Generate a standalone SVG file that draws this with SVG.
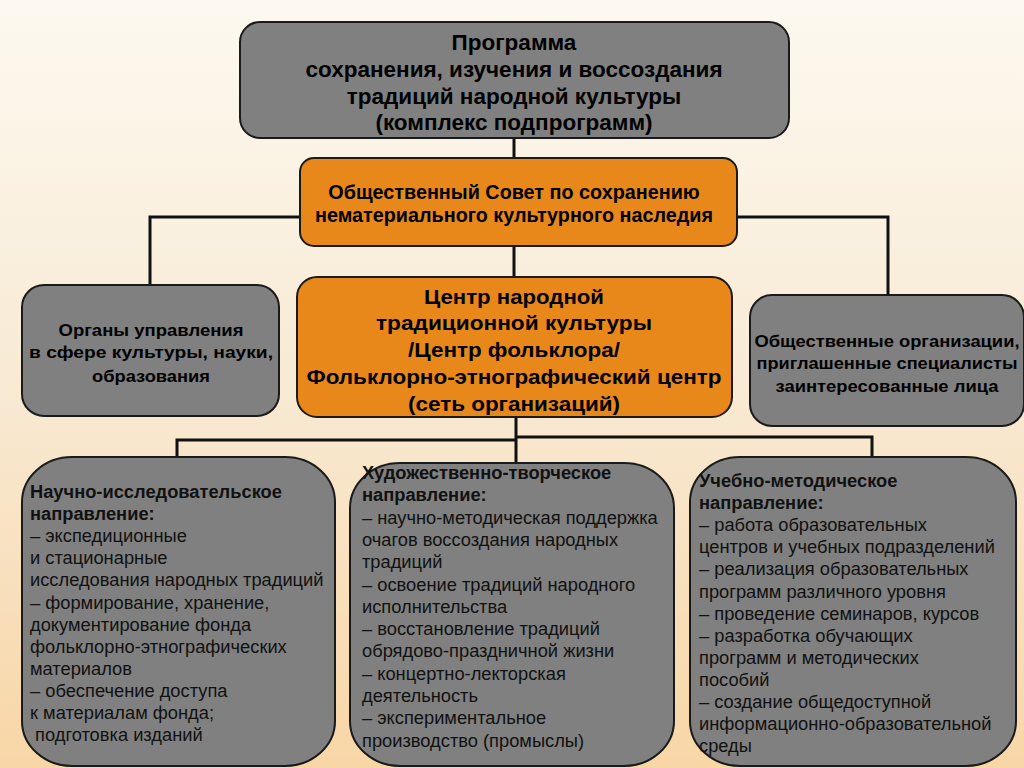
<svg xmlns="http://www.w3.org/2000/svg" width="1024" height="768" viewBox="0 0 1024 768">
<defs>
<linearGradient id="bg" x1="0" y1="0" x2="0" y2="1">
<stop offset="0" stop-color="#FDF9F0"/>
<stop offset="0.5" stop-color="#F8EAD4"/>
<stop offset="1" stop-color="#F8D6A6"/>
</linearGradient>
<style>
.gray{fill:#808080;stroke:#1a1a1a;stroke-width:2}
.org{fill:#E8881A;stroke:#1a1a1a;stroke-width:2}
.ln{fill:none;stroke:#111;stroke-width:3}
.t{font-family:"Liberation Sans",Arial,sans-serif;fill:#000}
.b{font-weight:bold}
.c{text-anchor:middle}
.h1{font-size:22.5px}
.h2{font-size:19.8px}
.cn{font-size:21px}
.sm{font-size:16px}
.bx{font-size:18.3px;fill:#111}
</style>
</defs>
<rect width="1024" height="768" fill="url(#bg)"/>
<g id="connectors">
<path class="ln" d="M514 138V158"/>
<path class="ln" d="M514 246V277"/>
<path class="ln" d="M300 217H150V285"/>
<path class="ln" d="M737 217H888V295"/>
<path class="ln" d="M516 417V463"/>
<path class="ln" d="M177 457V440H516"/>
<path class="ln" d="M516 437H872V457"/>
</g>
<g id="program">
<rect class="gray" x="240" y="22" width="549" height="116" rx="20"/>
<text class="t b c h1" x="514" y="50">Программа</text>
<text class="t b c h1" x="514" y="77">сохранения, изучения и воссоздания</text>
<text class="t b c h1" x="514" y="104">традиций народной культуры</text>
<text class="t b c h1" x="514" y="130">(комплекс подпрограмм)</text>
</g>
<g id="council">
<rect class="org" x="300" y="158" width="437" height="88" rx="14"/>
<text class="t b c h2" x="514" y="199">Общественный Совет по сохранению</text>
<text class="t b c h2" x="514" y="222">нематериального культурного наследия</text>
</g>
<g id="authorities">
<rect class="gray" x="22" y="285" width="257" height="131" rx="22"/>
<text class="t b c sm" x="151" y="336" textLength="185" lengthAdjust="spacingAndGlyphs">Органы управления</text>
<text class="t b c sm" x="151" y="358" textLength="244" lengthAdjust="spacingAndGlyphs">в сфере культуры, науки,</text>
<text class="t b c sm" x="151" y="382" textLength="118" lengthAdjust="spacingAndGlyphs">образования</text>
</g>
<g id="center">
<rect class="org" x="297" y="277" width="435" height="140" rx="20"/>
<text class="t b c cn" x="514" y="304" textLength="180" lengthAdjust="spacingAndGlyphs">Центр народной</text>
<text class="t b c cn" x="514" y="330" textLength="276" lengthAdjust="spacingAndGlyphs">традиционной культуры</text>
<text class="t b c cn" x="514" y="357" textLength="212" lengthAdjust="spacingAndGlyphs">/Центр фольклора/</text>
<text class="t b c cn" x="514" y="384" textLength="415" lengthAdjust="spacingAndGlyphs">Фольклорно-этнографический центр</text>
<text class="t b c cn" x="514" y="411" textLength="212" lengthAdjust="spacingAndGlyphs">(сеть организаций)</text>
</g>
<g id="public">
<rect class="gray" x="750" y="295" width="274" height="131" rx="22"/>
<text class="t b c sm" x="887" y="347" textLength="265" lengthAdjust="spacingAndGlyphs">Общественные организации,</text>
<text class="t b c sm" x="887" y="369" textLength="261" lengthAdjust="spacingAndGlyphs">приглашенные специалисты</text>
<text class="t b c sm" x="887" y="392" textLength="223" lengthAdjust="spacingAndGlyphs">заинтересованные лица</text>
</g>
<g id="research">
<rect class="gray" x="22" y="457" width="313" height="309" rx="50" ry="45"/>
<text class="t bx" x="30" y="498"><tspan class="b">Научно-исследовательское</tspan><tspan class="b" x="30" dy="22.1">направление:</tspan><tspan x="30" dy="22.1">– экспедиционные</tspan><tspan x="30" dy="22.1">и стационарные</tspan><tspan x="30" dy="22.1">исследования народных традиций</tspan><tspan x="30" dy="22.1">– формирование, хранение,</tspan><tspan x="30" dy="22.1">документирование фонда</tspan><tspan x="30" dy="22.1">фольклорно-этнографических</tspan><tspan x="30" dy="22.1">материалов</tspan><tspan x="30" dy="22.1">– обеспечение доступа</tspan><tspan x="30" dy="22.1">к материалам фонда;</tspan><tspan x="30" dy="22.1"> подготовка изданий</tspan></text>
</g>
<g id="creative">
<rect class="gray" x="350" y="463" width="324" height="303" rx="50" ry="45"/>
<text class="t bx" x="362" y="479"><tspan class="b">Художественно-творческое</tspan><tspan class="b" x="362" dy="22.3">направление:</tspan><tspan x="362" dy="22.3">– научно-методическая поддержка</tspan><tspan x="362" dy="22.3">очагов воссоздания народных</tspan><tspan x="362" dy="22.3">традиций</tspan><tspan x="362" dy="22.3">– освоение традиций народного</tspan><tspan x="362" dy="22.3">исполнительства</tspan><tspan x="362" dy="22.3">– восстановление традиций</tspan><tspan x="362" dy="22.3">обрядово-праздничной жизни</tspan><tspan x="362" dy="22.3">– концертно-лекторская</tspan><tspan x="362" dy="22.3">деятельность</tspan><tspan x="362" dy="22.3">– экспериментальное</tspan><tspan x="362" dy="22.3">производство (промыслы)</tspan></text>
</g>
<g id="education">
<rect class="gray" x="690" y="457" width="326" height="309" rx="50" ry="45"/>
<text class="t bx" x="699" y="487"><tspan class="b">Учебно-методическое</tspan><tspan class="b" x="699" dy="22.1">направление:</tspan><tspan x="699" dy="22.1">– работа образовательных</tspan><tspan x="699" dy="22.1">центров и  учебных подразделений</tspan><tspan x="699" dy="22.1">– реализация образовательных</tspan><tspan x="699" dy="22.1">программ различного уровня</tspan><tspan x="699" dy="22.1">– проведение семинаров, курсов</tspan><tspan x="699" dy="22.1">– разработка обучающих</tspan><tspan x="699" dy="22.1">программ и методических</tspan><tspan x="699" dy="22.1">пособий</tspan><tspan x="699" dy="22.1">– создание общедоступной</tspan><tspan x="699" dy="22.1">информационно-образовательной</tspan><tspan x="699" dy="22.1">среды</tspan></text>
</g>
</svg>
